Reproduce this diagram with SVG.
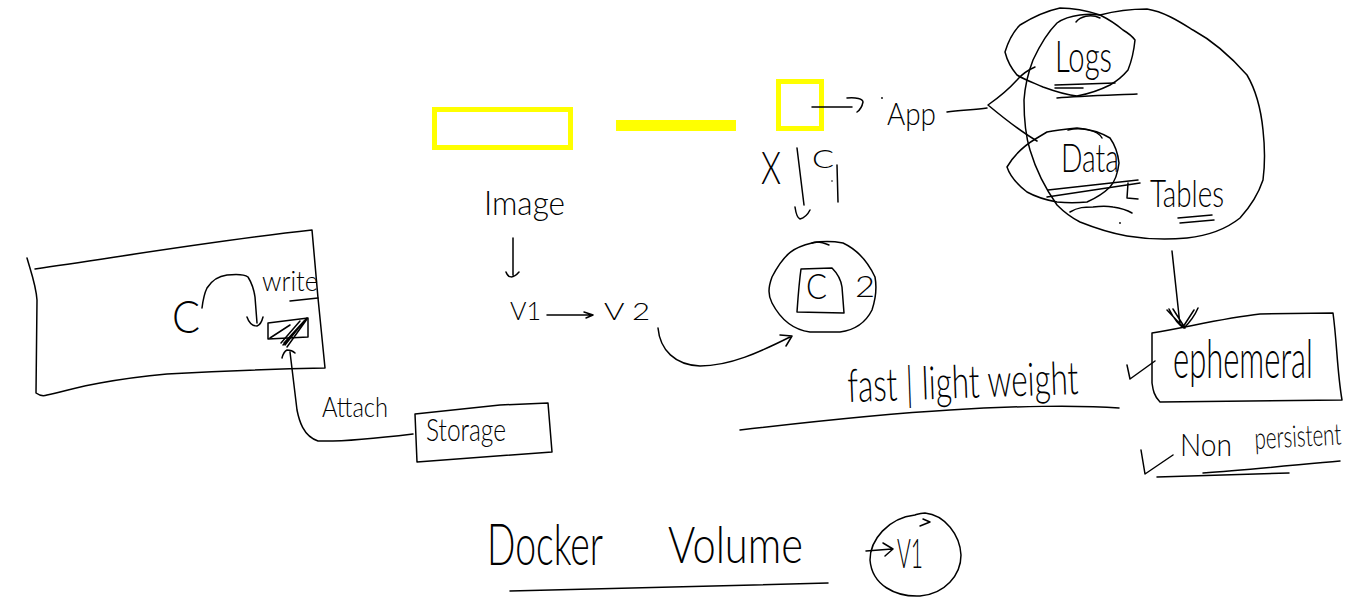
<svg xmlns="http://www.w3.org/2000/svg" width="1364" height="604" viewBox="0 0 1364 604">
<style>
.s{fill:none;stroke:#000;stroke-width:1.5;stroke-linecap:round;stroke-linejoin:round}
.y{fill:none;stroke:#ffff00;stroke-width:5}
text{font-family:Lato,"Liberation Sans",Arial,sans-serif;fill:#000;font-weight:300}
</style>
<rect width="1364" height="604" fill="#fff"/>
<g id="yellow-wide"><rect class="y" x="434.500" y="109.500" width="136" height="38"/></g>
<g id="yellow-bar"><rect x="616" y="120" width="120" height="11" fill="#ffff00"/></g>
<g id="yellow-square"><rect class="y" x="778.500" y="81.500" width="43" height="47"/></g>

<g id="host">
<path class="s" d="M27 258C31 272 36 285 37 300L36 393C40 396 44 396 47 395C65 391 82 386 100 383C122 379 145 376 167 374C220 371 272 369 325 368L318 298L312 230C220 240 125 256 35 269"/>
<text x="172" y="333" font-size="46" textLength="28" lengthAdjust="spacingAndGlyphs">C</text>
<path class="s" d="M202 308C203 300 204 294 207 288C212 280 219 276 227 275C236 274 244 274 248 277C253 285 254 290 255 297L257 323M247 317C249 323 253 326 257 326C260 325 262 321 263 317"/>
<text x="262" y="291" font-size="27" textLength="56" lengthAdjust="spacingAndGlyphs">write</text>
<path class="s" d="M290 301L318 298"/>
<path class="s" d="M268 323L308 318L308 337L268 339Z"/>
<path class="s" d="M270 338L290 325M283 345L307 318M285 345L304 321M287 347L307 319M281 343L300 321M284 343L305 320"/>
</g>

<g id="storage">
<path class="s" d="M415 414L500 405L548 403L552 452L417 462Z"/>
<text x="426" y="441" font-size="31" textLength="80" lengthAdjust="spacingAndGlyphs">Storage</text>
</g>
<g id="attach"><text x="322" y="417" font-size="27" textLength="66" lengthAdjust="spacingAndGlyphs">Attach</text></g>

<g id="image-flow">
<text x="484" y="215" font-size="34" textLength="81" lengthAdjust="spacingAndGlyphs">Image</text>
<text x="510" y="320" font-size="25" textLength="31" lengthAdjust="spacingAndGlyphs">V1</text>
<text x="604" y="320" font-size="24" textLength="46" lengthAdjust="spacingAndGlyphs">V 2</text>
</g>

<g id="container-2">
<path class="s" d="M812 243C795 247 785 252 772 277C768 288 768 295 772 303C782 322 795 330 810 332L840 332C855 330 866 322 872 310C876 298 877 288 875 277C868 262 858 250 843 243C832 241 822 241 812 243"/>
<path class="s" d="M812 243C816 241 822 242 829 245"/>
<path class="s" d="M801 269L832 268C838 274 841 280 842 287L844 313L797 312C798 298 799 283 801 269Z"/>
<text x="806" y="299" font-size="36" textLength="21" lengthAdjust="spacingAndGlyphs">C</text>
<text x="855" y="297" font-size="29" textLength="20" lengthAdjust="spacingAndGlyphs">2</text>
</g>

<g id="app">
<text x="887" y="125" font-size="31" textLength="49" lengthAdjust="spacingAndGlyphs">App</text>
<circle cx="882" cy="98" r="0.900" fill="#000"/>
</g>

<g id="cloud">
<path class="s" d="M1100 15C1115 11 1132 9 1147 9C1165 12 1180 22 1193 30C1215 42 1232 58 1247 75C1257 92 1261 110 1263 130C1265 148 1265 165 1263 180C1258 195 1250 207 1240 218C1225 230 1205 236 1187 238C1165 240 1145 239 1127 236C1110 233 1095 228 1080 222C1070 217 1063 211 1057 205C1045 188 1036 170 1030 150C1025 134 1024 117 1024 100C1025 86 1028 73 1033 60C1040 45 1048 32 1057 23C1064 18 1072 16 1080 15C1087 14 1094 14 1100 15"/>
</g>
<g id="logs">
<path class="s" d="M1005 52C1008 42 1013 32 1020 25C1033 17 1046 11 1060 8C1075 8 1088 11 1100 15C1108 19 1116 24 1123 30C1128 33 1132 36 1135 40C1134 50 1132 60 1128 70C1123 76 1117 81 1110 85C1100 90 1088 94 1077 96C1065 95 1054 91 1043 87C1034 83 1025 80 1017 75C1011 68 1007 60 1005 52"/>
<path class="s" d="M1076 22C1080 17 1090 13 1100 18"/>
<text x="1055" y="72" font-size="44" textLength="57" lengthAdjust="spacingAndGlyphs">Logs</text>
<path class="s" d="M1055 85L1115 83M1055 88L1083 88M1057 98C1080 96 1115 95 1137 94"/>
</g>
<g id="data">
<path class="s" d="M1037 138C1025 145 1014 155 1007 167C1010 176 1018 185 1027 192C1036 197 1046 200 1057 202C1067 203 1077 203 1087 202C1096 198 1104 193 1110 187C1116 180 1118 172 1119 163C1118 154 1115 145 1110 138C1100 132 1089 129 1077 128C1067 129 1057 130 1047 132Z"/>
<path class="s" d="M1068 130C1080 127 1098 130 1102 138"/>
<text x="1061" y="172" font-size="40" textLength="58" lengthAdjust="spacingAndGlyphs">Data</text>
<path class="s" d="M1048 190L1138 180M1047 197L1140 183M1128 183L1127 198L1138 199M1070 212C1078 207 1085 207 1093 207C1100 206 1108 206 1113 207C1120 208 1127 210 1132 213"/>
<circle cx="1120" cy="223" r="0.900" fill="#000"/>
</g>
<g id="tables">
<text x="1150" y="207" font-size="38" textLength="74" lengthAdjust="spacingAndGlyphs">Tables</text>
<path class="s" d="M1178 218L1212 215M1180 223L1214 220"/>
</g>

<g id="ephemeral">
<path class="s" d="M1152 333C1188 327 1224 318 1260 314L1333 313C1337 342 1337 371 1342 400L1160 402C1154 396 1153 390 1152 383Z"/>
<text transform="translate(1173 378) scale(.6 1)" x="0" y="0" font-size="54" textLength="233" lengthAdjust="spacingAndGlyphs">ephemeral</text>
<path class="s" d="M1127 365L1130 379L1155 361"/>
</g>
<g id="non-persistent">
<text x="1180" y="456" font-size="32" textLength="52" lengthAdjust="spacingAndGlyphs">Non</text>
<text transform="translate(1255 449) rotate(-3) scale(.7 1)" x="0" y="0" font-size="30" textLength="124" lengthAdjust="spacingAndGlyphs">persistent</text>
<path class="s" d="M1141 450L1145 474L1173 455M1157 477L1289 473M1203 473C1245 470 1295 465 1340 461"/>
</g>

<g id="fast-light">
<text x="848" y="402" font-size="46" textLength="231" lengthAdjust="spacingAndGlyphs" transform="rotate(-2 848 402)">fast | light weight</text>
<path class="s" d="M740 430C800 423 880 414 950 410C1010 406 1080 405 1119 408"/>
</g>

<g id="title">
<text x="487" y="565" font-size="58" textLength="116" lengthAdjust="spacingAndGlyphs">Docker</text>
<text x="668" y="563" font-size="52" textLength="135" lengthAdjust="spacingAndGlyphs">Volume</text>
<path class="s" d="M510 591C600 589 720 586 828 583"/>
</g>
<g id="v1-circle">
<path class="s" d="M915 515C888 518 870 540 870 560C872 585 895 597 920 596C945 594 961 575 961 555C960 535 945 515 925 513C920 513 918 514 915 515"/>
<text x="897" y="568" font-size="42" textLength="26" lengthAdjust="spacingAndGlyphs">V1</text>
</g>

<g id="labels">
<text x="761" y="184" font-size="46" textLength="20" lengthAdjust="spacingAndGlyphs">X</text>
<text x="812" y="168" font-size="25" textLength="22" lengthAdjust="spacingAndGlyphs">C</text>
<path class="s" d="M837 165L838 202"/>
<circle cx="832" cy="181" r="0.800" fill="#000"/>
</g>

<g id="connectors">
<path class="s" d="M812 107L852 107M847 98C856 97 863 99 863 102C862 107 860 110 857 112"/>
<path class="s" d="M947 112C960 110 975 110 987 108"/>
<path class="s" d="M1035 67C1028 70 1022 74 1017 80C1008 90 998 98 988 105C1000 115 1018 130 1037 141"/>
<path class="s" d="M797 148L804 205M795 207C796 214 797 218 800 219C804 218 808 214 810 210"/>
<path class="s" d="M513 238L513 275M506 272C508 278 513 279 519 272"/>
<path class="s" d="M547 315L592 315M584 312L593 315L586 318"/>
<path class="s" d="M658 328C660 350 675 365 700 366C730 366 760 352 790 337M780 335L792 336L786 346"/>
<path class="s" d="M413 434C380 438 345 442 318 441C303 436 299 420 297 410L290 352M282 358C283 354 285 351 287 350C290 350 293 351 295 353"/>
<path class="s" d="M1172 251L1180 325M1169 309C1173 317 1178 325 1184 328C1190 322 1195 315 1198 308M1167 310L1183 327L1194 310M1173 309L1185 328"/>
<path class="s" d="M866 551L892 549M883 543L893 549L885 556"/>
<path class="s" d="M923 519L930 522L920 526"/>
</g>
</svg>
